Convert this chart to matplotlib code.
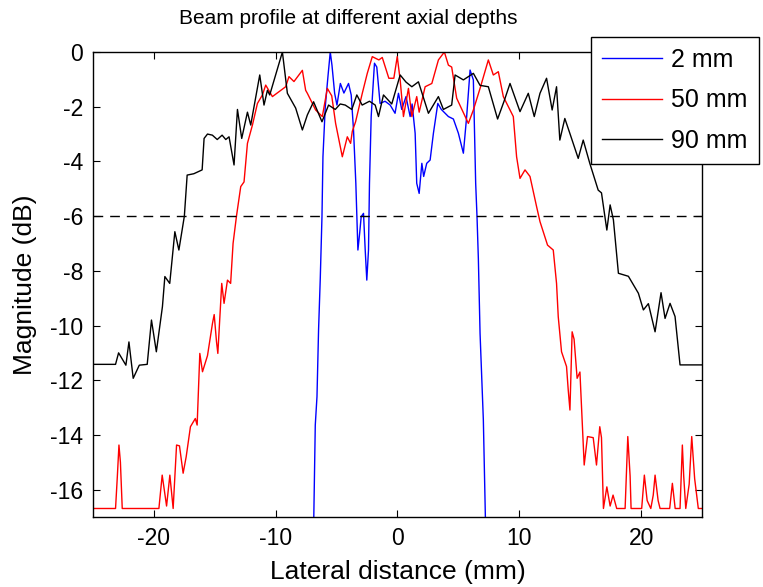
"""
Beam profile at different axial depths (2, 50, 90 mm)
"""

import matplotlib
matplotlib.use("Agg")
import matplotlib.pyplot as plt

plt.rcParams['font.family'] = ['Liberation Sans', 'DejaVu Sans']
plt.rcParams['axes.unicode_minus'] = False

# lateral position (mm) and magnitude (dB)
X_2MM = [-25, -6.95, -6.89, -6.75, -6.61, -6.48, -6.34, -6.2, -6.12, -5.93, -5.71, -5.52,
         -5.38, -5.16, -4.97, -4.69, -4.4, -4.02, -3.8, -3.61, -3.42, -3.25, -3.1, -2.98,
         -2.79, -2.65, -2.52, -2.38, -2.3, -2.16, -1.89, -1.7, -1.43, -1.02, -0.6, -0.2,
         0.08, 0.35, 0.7, 1.04, 1.2, 1.45, 1.58, 1.78, 2.0, 2.15, 2.4, 2.68, 2.95, 3.31,
         3.6, 4.18, 4.59, 5.0, 5.41, 5.68, 5.96, 6.23, 6.42, 6.53, 6.64, 6.78, 7.05, 7.24,
         7.3, 25]
Y_2MM = [-40, -40, -17.5, -13.64, -12.6, -10.16, -8.28, -6.02, -3.83, -2.0, -0.9, 0.0,
         -0.48, -1.51, -1.94, -1.15, -1.5, -1.15, -1.57, -2.85, -4.8, -7.24, -6.6, -6.02,
         -5.9, -7.24, -8.34, -7.24, -4.8, -2.36, -0.41, -0.55, -1.88, -1.8, -1.94, -2.24,
         -1.51, -2.1, -1.63, -2.36, -1.9, -2.97, -4.8, -5.17, -4.07, -4.55, -4.07, -3.95, -2.97, -1.88,
         -2.1, -2.36, -2.45, -2.97, -3.7, -2.36, -0.66, -1.02, -4.8, -6.02, -7.55, -10.29, -13.45, -17.5,
         -40, -40]

X_50MM = [-25, -23.15, -23.0, -22.87, -22.75, -22.6, -19.59, -19.32, -18.96, -18.69, -18.42,
          -18.14, -17.9, -17.6, -17.35, -17.0, -16.6, -16.45, -16.23, -16.01, -15.6, -15.19,
          -15.05, -14.86, -14.75, -14.43, -14.24, -13.96, -13.7, -13.5, -13.22, -12.87, -12.6,
          -12.32, -11.91, -11.5, -11.09, -10.82, -10.27, -9.73, -9.18, -8.91, -8.5, -8.09,
          -7.81, -7.54, -7.4, -6.72, -6.17, -5.76, -5.4, -5.08, -4.53, -4.12, -3.85, -3.71,
          -3.44, -2.89, -2.48, -2.07, -1.53, -1.25, -0.71, -0.3, -0.02, 0.22, 0.49, 0.9, 1.18,
          1.58, 1.78, 2.27, 2.82, 3.36, 3.85, 4.18, 4.45, 4.86, 5.82, 6.23, 6.78, 7.46, 7.87,
          8.28, 8.69, 9.51, 9.78, 10.06, 10.47, 10.88, 11.42, 11.7, 11.97, 12.32, 12.79, 13.06,
          13.2, 13.47, 13.88, 14.02, 14.16, 14.34, 14.5, 14.75, 14.98, 15.16, 15.33, 15.6,
          16.07, 16.34, 16.61, 16.75, 16.91, 17.19, 17.46, 17.7, 18.0, 18.69, 18.91, 19.1,
          19.18, 20.05, 20.27, 20.5, 20.8, 21.0, 21.15, 21.4, 21.56, 22.35, 22.57, 22.8, 23.2,
          23.39, 23.5, 23.67, 23.95, 24.16, 24.4, 24.7, 25]
Y_50MM = [-16.69, -16.69, -15.5, -14.37, -15.0, -16.69, -16.69, -15.47, -16.6, -15.47, -16.69,
          -14.37, -14.4, -15.4, -14.8, -13.7, -13.4, -13.64, -11.02, -11.69, -11.1, -9.92,
          -9.6, -10.59, -11.02, -8.46, -9.19, -8.34, -8.46, -7.0, -6.0, -4.92, -4.75,
          -3.34, -2.67, -1.88, -1.57, -1.21, -1.63, -1.45, -1.27, -0.9, -1.08, -0.84,
          -0.67, -1.4, -1.51, -2.12, -2.36, -1.33, -1.6, -2.61, -3.83, -3.1, -3.34, -2.9,
          -2.55, -1.51, -0.78, -0.17, -0.29, -0.2, -0.96, -0.96, -0.17, -1.02, -2.36, -1.33, -2.36,
          -1.63, -2.2, -1.27, -1.15, -0.29, 0.0, -0.48, -0.55, -1.69, -2.61, -2.12, -1.33, -0.29, -0.84,
          -0.72, -1.63, -2.36, -3.83, -4.62, -4.31, -4.55, -5.65, -6.2, -6.57, -7.06, -7.24, -8.46,
          -9.68, -10.96, -11.5, -12.36, -13.09, -10.23, -10.5, -11.93, -11.7, -13.45, -15.1, -14.06,
          -14.1, -15.1, -13.7, -14.1, -16.69, -15.9, -16.6, -16.2, -16.69, -16.69, -14.06, -15.5,
          -16.69, -16.69, -15.47, -16.4, -16.69, -16.2, -15.47, -16.4, -16.69, -16.69, -15.77, -16.69, -16.69,
          -14.37, -15.5, -16.69, -15.8, -14.06, -15.6, -16.69, -16.69]

X_90MM = [-25, -23.15, -22.9, -22.3, -22.05, -21.7, -21.2, -20.55, -20.2, -19.8, -19.3, -19.1,
          -18.7, -18.28, -17.95, -17.68, -17.5, -17.27, -16.72, -16.04, -15.88, -15.6, -15.2,
          -14.8, -14.4, -14.1, -13.83, -13.42, -13.14, -12.79, -12.32, -12.05, -11.31, -10.96,
          -10.68, -10.49, -9.45, -9.04, -8.36, -7.81, -7.4, -6.89, -6.2, -5.66, -5.11, -4.7,
          -4.29, -3.75, -3.34, -2.9, -2.3, -1.83, -1.56, -1.15, -0.47, 0.22, 0.7, 1.18, 1.72,
          2.54, 3.36, 3.77, 4.45, 4.73, 5.41, 6.23, 6.78, 7.46, 8.22, 8.75, 9.24, 10.06, 10.74,
          11.23, 11.7, 12.24, 12.7, 13.06, 13.33, 13.74, 14.15, 14.84, 15.25, 15.79, 16.48,
          16.75, 17.19, 17.46, 17.73, 18.14, 18.96, 19.78, 20.19, 20.6, 21.15, 21.64, 21.97,
          22.38, 22.79, 23.2, 25]
Y_90MM = [-11.42, -11.42, -11.0, -11.45, -10.6, -11.93, -11.45, -11.42, -9.8, -10.96, -9.31, -8.21,
          -8.46, -6.57, -7.24, -6.5, -6.0, -4.5, -4.45, -4.31, -3.16, -3.0, -3.04,
          -3.2, -3.04, -3.2, -3.1, -4.13, -2.1, -3.16, -2.2, -2.67, -0.84, -1.94,
          -1.4, -1.57, 0.0, -1.51, -2.05, -2.85, -2.3, -1.82, -2.55, -1.94, -2.1, -1.9,
          -1.94, -2.1, -1.57, -1.94, -1.8, -1.94, -2.36, -1.57, -1.9, -0.84, -1.1, -1.27, -1.09,
          -2.24, -1.63, -2.1, -1.94, -0.84, -1.02, -0.78, -1.22, -1.27, -2.45, -1.8, -1.15, -2.18, -1.51,
          -2.36, -1.51, -0.96, -2.12, -1.27, -3.22, -2.43, -2.97, -3.89, -3.22, -4.07, -5.05,
          -5.15, -6.51, -5.59, -6.14, -8.09, -8.2, -8.82, -9.43, -9.2, -10.23, -8.8, -9.74,
          -9.19, -9.67, -11.44, -11.44]

LABELS = ["2 mm", "50 mm", "90 mm"]
COLORS = ["#0000ff", "#ff0000", "#000000"]
THRESHOLD_DB = -6

fig = plt.figure(figsize=(7.63, 5.87), dpi=100)
ax = fig.add_axes([0.1219, 0.1193, 0.7981, 0.7921])

for xs, ys, lab, col in zip([X_2MM, X_50MM, X_90MM], [Y_2MM, Y_50MM, Y_90MM], LABELS, COLORS):
    ax.plot(xs, ys, color=col, lw=1.0, label=lab)
ax.axhline(THRESHOLD_DB, color='black', lw=1.0, ls=(0, (7, 5)))

ax.set_xlim(-25, 25)
ax.set_ylim(-17, 0)
ax.set_xticks([-20, -10, 0, 10, 20])
ax.set_yticks(range(-16, 1, 2))
ax.tick_params(direction='in', top=True, right=True, labelsize=16.5, length=5, pad=7)
for sp in ax.spines.values():
    sp.set_linewidth(1.0)

ax.set_xlabel("Lateral distance (mm)", fontsize=19)
ax.set_ylabel("Magnitude (dB)", fontsize=19)
ax.xaxis.set_label_coords(0.5, -0.092)
ax.yaxis.set_label_coords(-0.092, 0.5)
fig.text(0.456, 0.969, "Beam profile at different axial depths", fontsize=15,
         ha='center', va='center')

leg = ax.legend(loc='upper left', bbox_to_anchor=(0.7746, 0.937), bbox_transform=fig.transFigure,
                fancybox=False, edgecolor='black', framealpha=1, fontsize=18,
                borderaxespad=0, borderpad=0.45, handlelength=2.4, handletextpad=0.35,
                labelspacing=0.65)
leg.get_frame().set_linewidth(1.0)

plt.savefig('out.png', dpi=100)
plt.close()
